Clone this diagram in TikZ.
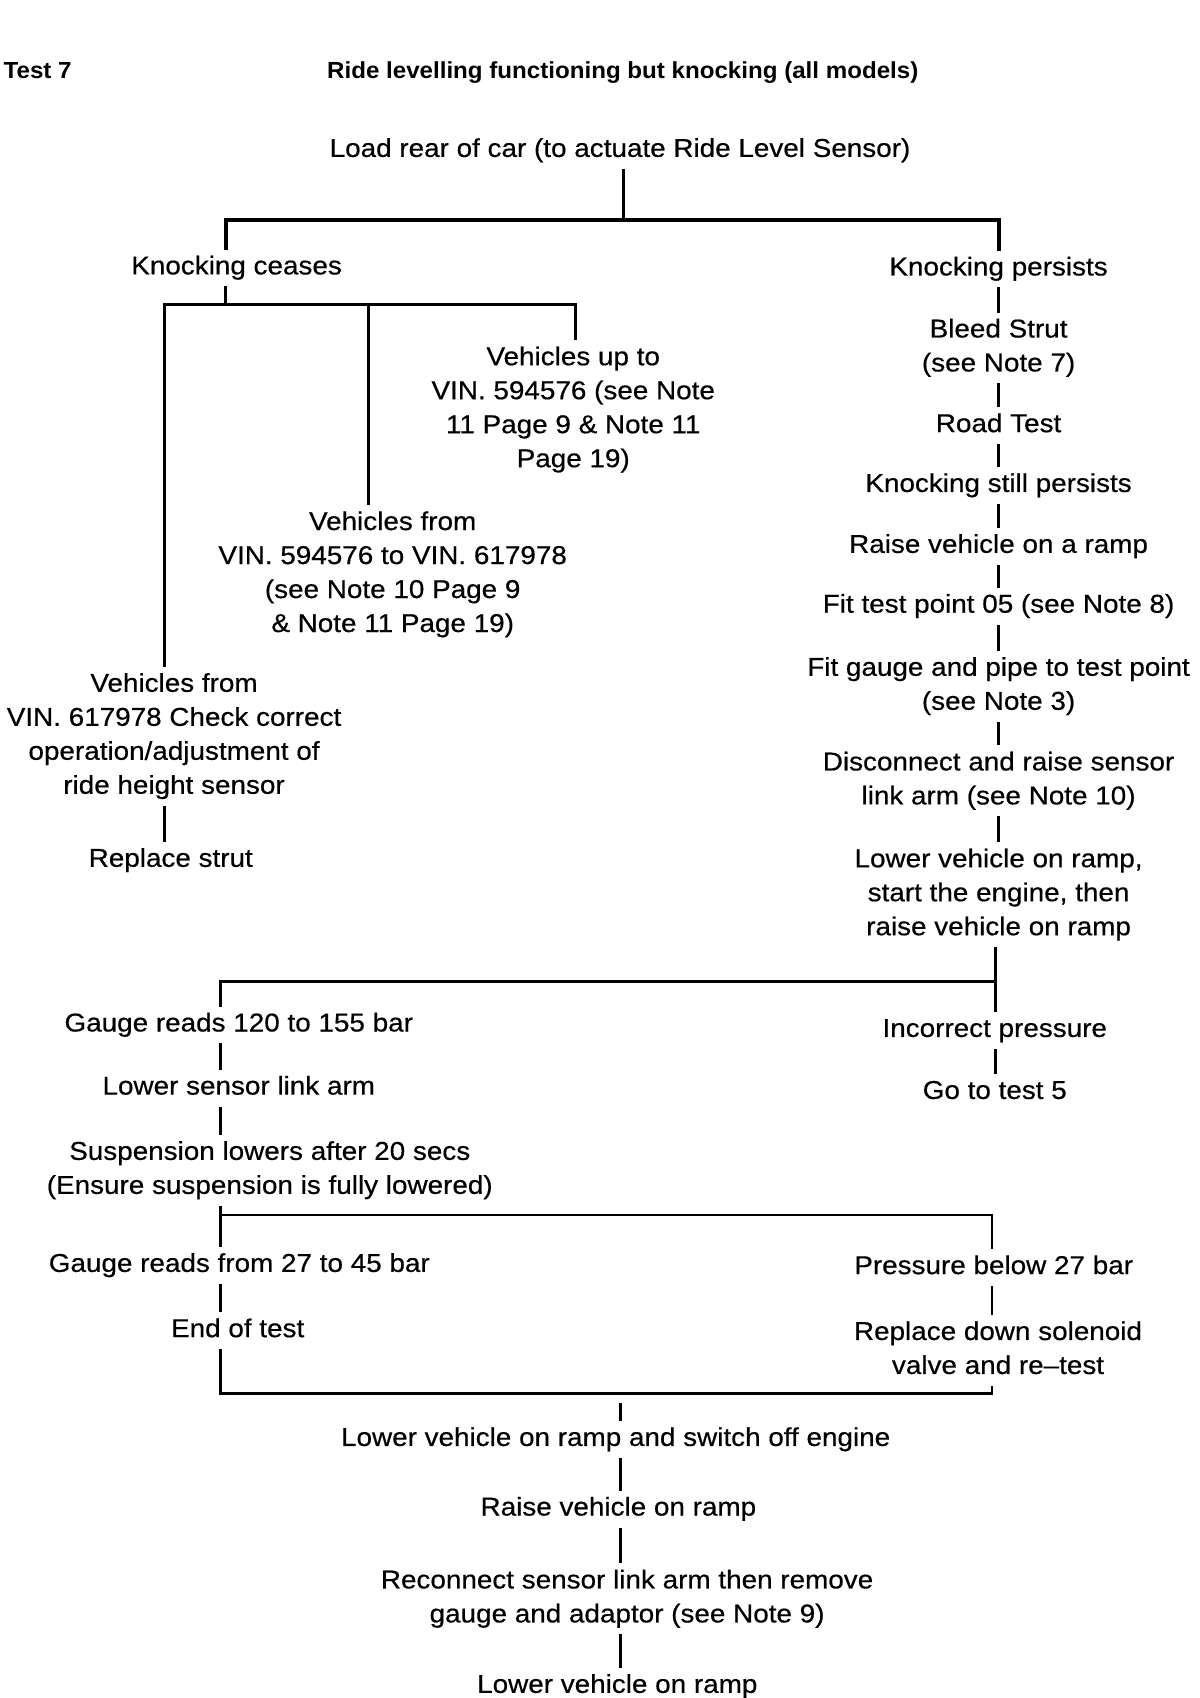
\documentclass[tikz,border=0pt]{standalone}
\usepackage{fontspec}
\setmainfont{Liberation Sans}[FakeStretch=1.08, FakeBold=0.5]
\newfontfamily\ttlfont{Liberation Sans}[FakeStretch=1.04]
\newcommand\tS{\rule{0pt}{13pt}}
\newcommand\bS{\rule[-6.5pt]{0pt}{6.5pt}}
\begin{document}
\begin{tikzpicture}[x=0.544pt,y=-0.544pt,
  txt/.style={font=\fontsize{12.9}{17}\selectfont, align=center, inner sep=0pt, anchor=north},
  ttl/.style={font=\ttlfont\bfseries\fontsize{11.6}{13}\selectfont, inner sep=0pt, anchor=base},
  ln/.style={line width=1.4pt, line cap=rect},
  bus/.style={line width=2pt, line cap=rect}]
\useasboundingbox (0,0) rectangle (1103,1561);

% titles
\node[ttl, anchor=base west] (t7) at (3,72) {Test 7};
\node[ttl] (ttl) at (572.5,72) {Ride levelling functioning but knocking (all models)};

% top part
\node[txt] (load) at (570,144-24) {\tS Load rear of car (to actuate Ride Level Sensor)\bS};
\node[txt] (kc) at (217.5,252-24) {\tS Knocking ceases\bS};
\node[txt] (kp) at (918,253-24) {\tS Knocking persists\bS};

\node[txt] (vup) at (527,335.5-24) {\tS Vehicles up to\\VIN. 594576 (see Note\\11 Page 9 \& Note 11\\Page 19)\bS};
\node[txt] (vf) at (361,487-24) {\tS Vehicles from\\VIN. 594576 to VIN. 617978\\(see Note 10 Page 9\\\& Note 11 Page 19)\bS};
\node[txt] (vf2) at (160,635.7-24) {\tS Vehicles from\\VIN. 617978 Check correct\\operation/adjustment of\\ride height sensor\bS};
\node[txt] (rs) at (157,796.6-24) {\tS Replace strut\bS};

\node[txt] (bleed) at (918,310-24) {\tS Bleed Strut\\(see Note 7)\bS};
\node[txt] (road) at (918,397-24) {\tS Road Test\bS};
\node[txt] (still) at (918,452-24) {\tS Knocking still persists\bS};
\node[txt] (raise) at (918,508-24) {\tS Raise vehicle on a ramp\bS};
\node[txt] (fit05) at (918,563-24) {\tS Fit test point 05 (see Note 8)\bS};
\node[txt] (gauge) at (918,621-24) {\tS Fit gauge and pipe to test point\\(see Note 3)\bS};
\node[txt] (disc) at (918,708-24) {\tS Disconnect and raise sensor\\link arm (see Note 10)\bS};
\node[txt] (lower) at (918,797-24) {\tS Lower vehicle on ramp,\\start the engine, then\\raise vehicle on ramp\bS};

% middle part
\node[txt] (g120) at (219.5,948-24) {\tS Gauge reads 120 to 155 bar\bS};
\node[txt] (lsl) at (219.5,1006-24) {\tS Lower sensor link arm\bS};
\node[txt] (susp) at (248,1066-24) {\tS Suspension lowers after 20 secs\\(Ensure suspension is fully lowered)\bS};
\node[txt] (incorrect) at (914.5,953-24) {\tS Incorrect pressure\bS};
\node[txt] (go5) at (914.5,1010-24) {\tS Go to test 5\bS};

\node[txt] (g27) at (220,1169-24) {\tS Gauge reads from 27 to 45 bar\bS};
\node[txt] (endt) at (218.5,1229-24) {\tS End of test\bS};
\node[txt] (p27) at (913.5,1171-24) {\tS Pressure below 27 bar\bS};
\node[txt] (repl) at (917.5,1231.6-24) {\tS Replace down solenoid\\valve and re–test\bS};

% bottom part
\node[txt] (lowoff) at (566,1329-24) {\tS Lower vehicle on ramp and switch off engine\bS};
\node[txt] (raise2) at (568.5,1393-24) {\tS Raise vehicle on ramp\bS};
\node[txt] (recon) at (576.5,1460-24) {\tS Reconnect sensor link arm then remove\\gauge and adaptor (see Note 9)\bS};
\node[txt] (lowfin) at (567.5,1556-24) {\tS Lower vehicle on ramp\bS};

% connectors: top
\coordinate (jt) at (573.5,202);
\coordinate (jl) at (207.5,202);
\coordinate (jr) at (918,202);
\draw[ln] (jt |- load.south) -- (jt);
\draw[bus] (jl |- kc.north) -- (jl) -- (jr) -- (jr |- kp.north);

% knocking ceases branch
\coordinate (kj) at (207.5,280);
\coordinate (ka) at (151,280);
\coordinate (kb) at (339,283);
\coordinate (kd) at (529,280);
\draw[ln] (kj |- kc.south) -- (kj);
\draw[ln] (ka |- vf2.north) -- (ka) -- (kd) -- (kd |- vup.north);
\draw[ln] (kb) -- (kb |- vf.north);
\draw[ln] (ka |- vf2.south) -- (ka |- rs.north);

% knocking persists chain
\foreach \a/\b in {kp/bleed, bleed/road, road/still, still/raise, raise/fit05, fit05/gauge, gauge/disc, disc/lower}
  \draw[ln] (\a.south) -- (\b.north);

% pressure split
\coordinate (mj) at (915,902);
\coordinate (ml) at (203,902);
\draw[ln] (mj |- lower.south) -- (mj |- incorrect.north);
\draw[ln] (ml |- g120.north) -- (ml) -- (mj);
\draw[ln] (mj |- incorrect.south) -- (mj |- go5.north);
\draw[ln] (ml |- g120.south) -- (ml |- lsl.north);
\draw[ln] (ml |- lsl.south) -- (ml |- susp.north);

% second split
\coordinate (bl) at (203,1117);
\coordinate (br) at (912,1117);
\draw[ln] (bl |- susp.south) -- (bl |- g27.north);
\draw[ln] (bl) -- (br) -- (br |- p27.north);
\draw[ln] (bl |- g27.south) -- (bl |- endt.north);
\draw[ln] (br |- p27.south) -- (br |- repl.north);

% merge
\coordinate (cl) at (203,1281);
\coordinate (cr) at (912,1281);
\draw[ln] (cl |- endt.south) -- (cl) -- (cr) -- (cr |- repl.south);
\coordinate (cj) at (570.5,1291);
\draw[ln] (cj) -- (cj |- lowoff.north);
\draw[ln] (cj |- lowoff.south) -- (cj |- raise2.north);
\draw[ln] (cj |- raise2.south) -- (cj |- recon.north);
\draw[ln] (cj |- recon.south) -- (cj |- lowfin.north);
\end{tikzpicture}
\end{document}
